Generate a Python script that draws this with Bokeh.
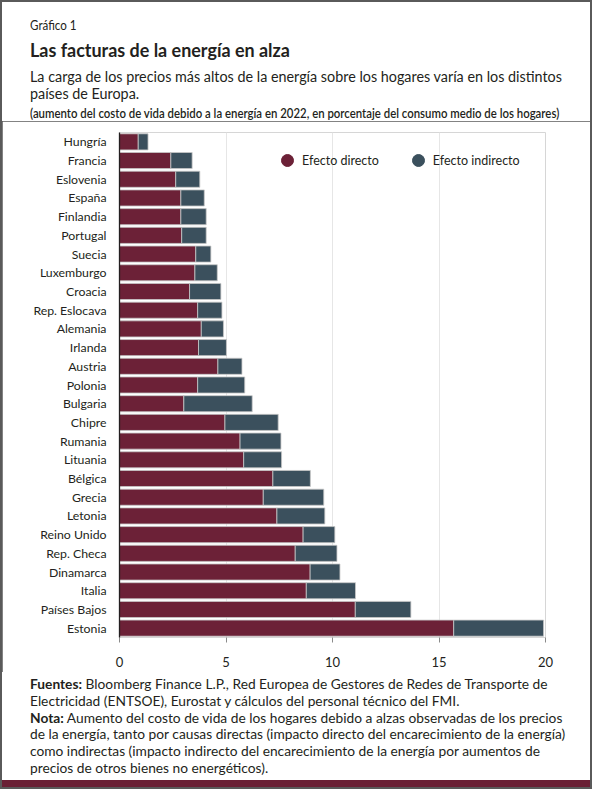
from bokeh.plotting import figure
from bokeh.layouts import column
from bokeh.models import (FactorRange, Range1d, Legend, LegendItem, FixedTicker,
                          ColumnDataSource, Div)
from bokeh.embed import file_html
from bokeh.resources import INLINE

countries = ["Hungría", "Francia", "Eslovenia", "España", "Finlandia", "Portugal",
             "Suecia", "Luxemburgo", "Croacia", "Rep. Eslocava", "Alemania", "Irlanda",
             "Austria", "Polonia", "Bulgaria", "Chipre", "Rumania", "Lituania", "Bélgica",
             "Grecia", "Letonia", "Reino Unido", "Rep. Checa", "Dinamarca", "Italia",
             "Países Bajos", "Estonia"]
direct = [0.88, 2.41, 2.64, 2.88, 2.88, 2.92, 3.58, 3.54, 3.29, 3.67, 3.84, 3.71,
          4.62, 3.67, 3.02, 4.95, 5.66, 5.83, 7.20, 6.75, 7.39, 8.62, 8.25, 8.95,
          8.77, 11.07, 15.69]
indirect = [0.46, 1.00, 1.13, 1.10, 1.19, 1.15, 0.71, 1.05, 1.47, 1.14, 1.04, 1.31,
            1.13, 2.21, 3.21, 2.50, 1.92, 1.78, 1.76, 2.84, 2.25, 1.49, 1.96, 1.40,
            2.31, 2.61, 4.22]
series_names = ["Efecto directo", "Efecto indirecto"]
x_ticks = [0, 5, 10, 15, 20]

header_lines = [
    ("Gráfico 1", 22.5, "13.2px", "normal", 0.88),
    ("Las facturas de la energía en alza", 47.7, "19.5px", "bold", 0.92),
    ("La carga de los precios más altos de la energía sobre los hogares varía en los distintos", 74.2, "15.6px", "normal", 0.92),
    ("países de Europa.", 91, "15.6px", "normal", 0.92),
    ("(aumento del costo de vida debido a la energía en 2022, en porcentaje del consumo medio de los hogares)", 112.2, "12.4px", "600", 0.92),
]
footer_lines = [
    ("<b>Fuentes:</b> Bloomberg Finance L.P., Red Europea de Gestores de Redes de Transporte de", 12),
    ("Electricidad (ENTSOE), Eurostat y cálculos del personal técnico del FMI.", 28.8),
    ("<b>Nota:</b> Aumento del costo de vida de los hogares debido a alzas observadas de los precios", 45.6),
    ("de la energía, tanto por causas directas (impacto directo del encarecimiento de la energía)", 62.4),
    ("como indirectas (impacto indirecto del encarecimiento de la energía por aumentos de", 79.2),
    ("precios de otros bienes no energéticos).", 96),
]

MAROON = "#6C2137"
SLATE = "#3B505D"
DARK = "#231F20"
FRAME = "#5A5A5A"
BAND = "#6A2035"
FONT = "Lato"

INNER_W = 588
HEAD_H, MAIN_H, FOOT_H = 119, 551, 115
TEXT_X = 28


def line_div(text, cy, size, weight="normal", scale=1.0, h=22):
    return (f'<div style="position:absolute;left:{TEXT_X}px;top:{cy - h / 2:.1f}px;'
            f'height:{h}px;line-height:{h}px;white-space:nowrap;font-family:{FONT};'
            f'font-size:{size};font-weight:{weight};color:{DARK};'
            f'transform:scaleX({scale});transform-origin:left center;">{text}</div>')


def box_html(inner, h):
    return (f'<div style="position:relative;width:{INNER_W}px;height:{h}px;'
            f'background:white;overflow:hidden;margin:0;padding:0;">{inner}</div>')


# ---------- header ----------
head_inner = "".join(line_div(t, cy, s, w, sc) for t, cy, s, w, sc in header_lines)
head = Div(text=box_html(head_inner, HEAD_H), width=INNER_W, height=HEAD_H,
           margin=(2, 2, 0, 2), styles={"background-color": "white"})

# ---------- main chart ----------
p = figure(width=INNER_W, height=MAIN_H, output_backend="svg", toolbar_location=None,
           y_range=FactorRange(factors=countries[::-1]), x_range=Range1d(0, 20),
           min_border_left=117, min_border_right=45, min_border_top=11,
           min_border_bottom=35, margin=(0, 2, 0, 2))
p.background_fill_color = "white"
p.border_fill_color = "white"
p.outline_line_color = None

src = ColumnDataSource(dict(country=countries, d=direct, i=indirect))
p.hbar_stack(["d", "i"], y="country", height=0.86, source=src,
             color=[MAROON, SLATE], line_color="#C8C8C8", line_width=0.8)

p.xaxis.ticker = FixedTicker(ticks=x_ticks)
p.xaxis.axis_line_color = None
p.xaxis.major_tick_in = 0
p.xaxis.major_tick_out = 5
p.xaxis.major_tick_line_color = "#8A8A8A"
p.xaxis.minor_tick_line_color = None
p.xaxis.major_label_standoff = 14
p.xaxis.major_label_text_font = FONT
p.xaxis.major_label_text_font_size = "13px"
p.xaxis.major_label_text_color = DARK

p.yaxis.axis_line_color = DARK
p.yaxis.axis_line_width = 1.3
p.yaxis.major_tick_in = 0
p.yaxis.major_tick_out = 0
p.yaxis.major_tick_line_color = None
p.yaxis.minor_tick_line_color = None
p.yaxis.major_label_standoff = 13
p.yaxis.major_label_text_font = FONT
p.yaxis.major_label_text_font_size = "12.3px"
p.yaxis.major_label_text_color = DARK

p.ygrid.grid_line_color = None
p.xgrid.ticker = FixedTicker(ticks=x_ticks)
p.xgrid.grid_line_color = "#E6E6E6"
p.xgrid.grid_line_width = 1

# legend proxies (circle markers, not visible in the plot area)
r1 = p.scatter(x=[float("nan")], y=[countries[0]], marker="circle", color=MAROON)
r2 = p.scatter(x=[float("nan")], y=[countries[0]], marker="circle", color=SLATE)
legend = Legend(items=[LegendItem(label=series_names[0], renderers=[r1]),
                       LegendItem(label=series_names[1], renderers=[r2])],
                orientation="horizontal", location=(153, 462),
                glyph_width=30, glyph_height=30, label_standoff=0, spacing=24,
                padding=0, margin=0, border_line_color=None, background_fill_alpha=0,
                label_text_font=FONT, label_text_font_size="12.5px",
                label_text_color=DARK)
p.add_layout(legend, "center")

# ---------- footer ----------
foot_inner = "".join(line_div(t, cy, "13.75px", "normal", 1.0, 20) for t, cy in footer_lines)
foot_inner += (f'<div style="position:absolute;left:0;top:108px;width:{INNER_W}px;'
               f'height:7px;background:{BAND};"></div>')
foot = Div(text=box_html(foot_inner, FOOT_H), width=INNER_W, height=FOOT_H,
           margin=(0, 2, 2, 2), styles={"background-color": "white"})

page = column(head, p, foot, spacing=0, width=592, height=789,
              styles={"background-color": FRAME})
open("out.html", "w").write(file_html(page, INLINE))
